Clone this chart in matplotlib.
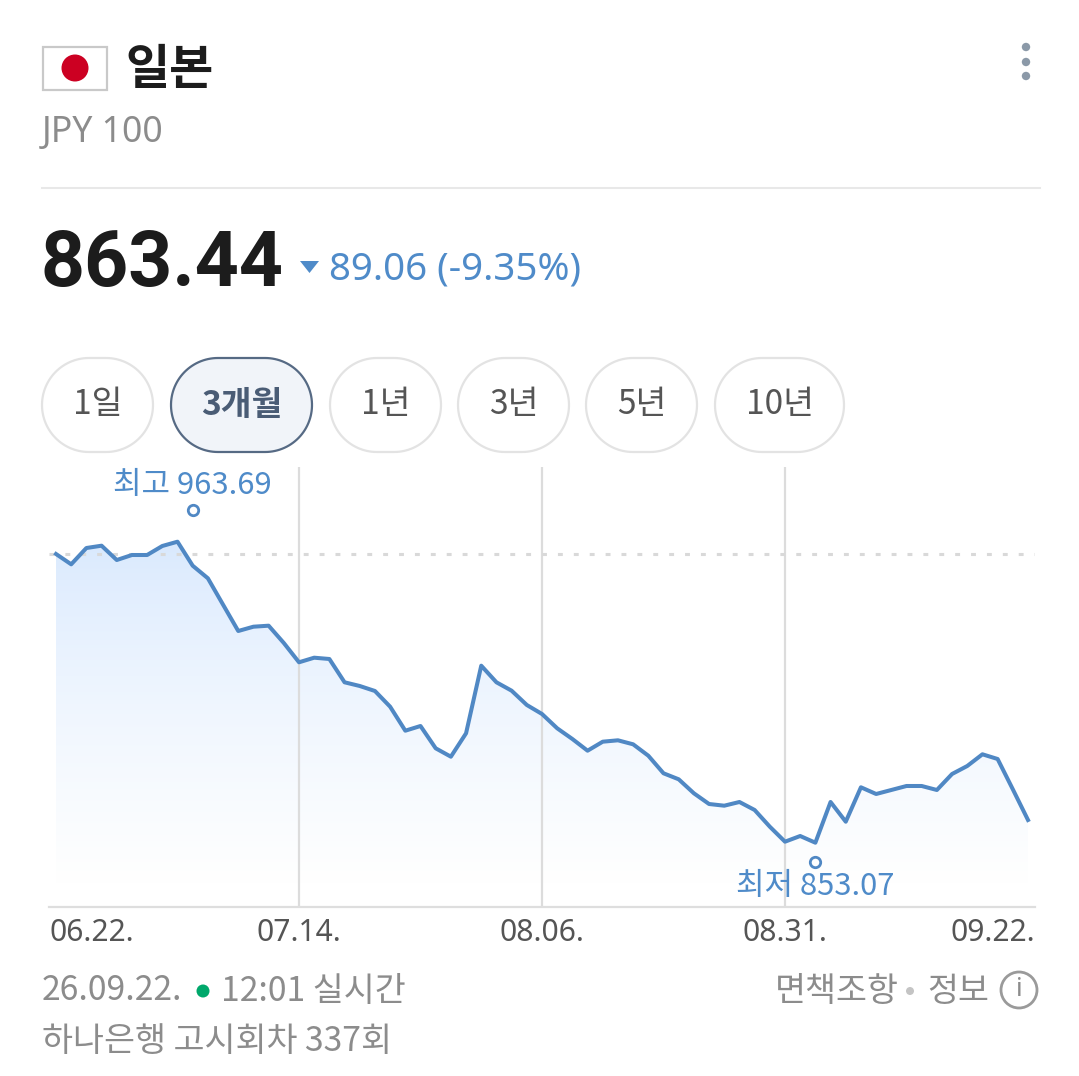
import numpy as np
import matplotlib
matplotlib.use("Agg")
import matplotlib.pyplot as plt
from matplotlib.patches import Rectangle, Circle, Polygon
from matplotlib.transforms import ScaledTranslation

plt.rcParams['font.family'] = ['Noto Sans CJK KR', 'DejaVu Sans']

# ---- data ----
rates = [959.17, 955.38, 961.37, 962.22, 956.96, 958.80, 958.80, 962.11, 963.69, 954.87,
         950.24, 940.54, 930.87, 932.45, 932.82, 926.46, 919.37, 921.06, 920.58, 912.02,
         910.66, 908.82, 903.05, 894.23, 895.96, 887.76, 884.68, 893.28, 918.12, 912.02,
         908.93, 903.68, 900.37, 895.11, 891.18, 886.88, 890.19, 890.70, 889.23, 885.04,
         878.58, 876.37, 871.23, 867.29, 866.67, 868.03, 865.09, 858.95, 853.44, 855.53,
         853.07, 868.03, 860.79, 873.43, 870.97, 872.44, 873.91, 873.91, 872.44, 878.32,
         881.26, 885.56, 883.83, 872.70, 861.41]
tick_pos = [0, 16, 32, 48, 64]
tick_labels = ["06.22.", "07.14.", "08.06.", "08.31.", "09.22."]
grid_pos = [16, 32, 48]
prev_close = 959.17
high_label = "최고 963.69"
low_label = "최저 853.07"
high_marker = (9, 975.5)
low_marker = (50, 846.0)
periods = ["1일", "3개월", "1년", "3년", "5년", "10년"]

W, H = 1079, 1076
fig = plt.figure(figsize=(W / 100, H / 100), dpi=100, facecolor="white")

BLUE = "#4f8bc9"
LINE = "#5088c4"
GRAY = "#8c8c8c"
DARK = "#1c1c1c"
px = 0.72

# ---- UI layer in pixel coordinates ----
ui = fig.add_axes([0, 0, 1, 1])
ui.set_xlim(0, W)
ui.set_ylim(H, 0)
ui.axis("off")


def pill(a, b, y0, y1, **kw):
    r = (y1 - y0) / 2
    t = np.linspace(-np.pi / 2, np.pi / 2, 60)
    xs = np.r_[b - r + r * np.cos(t), a + r - r * np.cos(t[::-1])]
    ys = np.r_[y0 + r + r * np.sin(t), y0 + r + r * np.sin(t[::-1])]
    ui.add_patch(Polygon(np.c_[xs, ys], closed=True, **kw))


ui.add_patch(Rectangle((43, 46.5), 64, 43, fc="white", ec="#c9c9c9", lw=1.6))
ui.add_patch(Circle((75, 68), 13.5, fc="#cc0022", ec="none"))
ui.text(125, 69, "일본", fontsize=48 * px, fontweight="bold", color=DARK, va="center", ha="left")
ui.text(42, 133, "JPY 100", fontsize=35.5 * px, color=GRAY, va="center", ha="left",
        family=["Noto Sans", "DejaVu Sans"])
for y in (47, 62, 76):
    ui.add_patch(Circle((1026, y), 4.2, fc="#8b99a8", ec="none"))
ui.plot([42, 1040], [188, 188], color="#e8e8e8", lw=1.5)

ui.text(41, 265, "863.44", fontsize=77 * px, fontweight="bold", color=DARK, va="center", ha="left",
        family=["Roboto", "DejaVu Sans"])
ui.add_patch(Polygon([(300, 261), (319, 261), (309.5, 273)], fc=BLUE, ec="none"))
ui.text(329, 269, "89.06 (-9.35%)", fontsize=38.5 * px, color=BLUE, va="center", ha="left",
        family=["Noto Sans", "DejaVu Sans"])

spans = [(42, 153), (171, 312), (330, 441), (458, 569), (586, 697), (715, 844)]
for i, (lab, (a, b)) in enumerate(zip(periods, spans)):
    sel = i == 1
    pill(a, b, 358, 452, fc="#f1f4f9" if sel else "white",
         ec="#566a84" if sel else "#e3e3e3", lw=1.6)
    ui.text((a + b) / 2, 405, lab, fontsize=33.5 * px, color="#4a5c75" if sel else "#555555",
            fontweight="bold" if sel else "normal", va="center", ha="center")

ui.text(42, 991, "26.09.22.", fontsize=33.7 * px, color=GRAY, va="center", ha="left")
ui.add_patch(Circle((203, 991), 6.5, fc="#00a86b", ec="none"))
ui.text(221, 991, "12:01 실시간", fontsize=33.7 * px, color=GRAY, va="center", ha="left")
ui.text(775, 991, "면책조항", fontsize=33.7 * px, color=GRAY, va="center", ha="left")
ui.add_patch(Circle((910, 991), 4, fc="#c4c4c4", ec="none"))
ui.text(927, 991, "정보", fontsize=33.7 * px, color=GRAY, va="center", ha="left")
ui.add_patch(Circle((1019, 990), 18, fc="white", ec="#9a9a9a", lw=2))
ui.text(1019, 990, "i", fontsize=26 * px, color="#8c8c8c", va="center", ha="center",
        family=["Noto Sans", "DejaVu Sans"])
ui.text(42, 1041, "하나은행 고시회차 337회", fontsize=33.7 * px, color=GRAY, va="center", ha="left")

# ---- chart ----
left, right, top, bottom = 49, 1035, 467, 907
ax = fig.add_axes([left / W, 1 - bottom / H, (right - left) / W, (bottom - top) / H])
ax.patch.set_alpha(0)

x = np.arange(len(rates))
grad = np.linspace(0, 1, 256) ** 0.7
cols = np.ones((256, 1, 4))
cols[:, 0, 0] = 0.845 + 0.155 * grad
cols[:, 0, 1] = 0.910 + 0.090 * grad
cols[:, 0, 2] = 0.995 + 0.005 * grad
im = ax.imshow(cols, extent=[x[0], x[-1], 838, 963.69], aspect="auto", origin="upper", zorder=1)
clip = Polygon(list(zip(x, rates)) + [(x[-1], 838), (x[0], 838)], closed=True,
               transform=ax.transData, fc="none", ec="none")
ax.add_patch(clip)
im.set_clip_path(clip)
ax.set_xlim(-0.461, 64.461)
ax.set_ylim(829.44, 991.14)

for g in grid_pos:
    ax.axvline(g, color="#dcdcdc", lw=1.6, zorder=2)
ax.axhline(prev_close, color="#d9d9d9", lw=2.2, ls=(0, (1.6, 3.6)), zorder=2)

ax.plot(x, rates, color=LINE, lw=2.9, solid_joinstyle="round", zorder=3)
ax.plot(*high_marker, "o", ms=7.5, mfc="white", mec=LINE, mew=2, zorder=4)
ax.plot(*low_marker, "o", ms=7.5, mfc="white", mec=LINE, mew=2, zorder=4)
ax.annotate(high_label, high_marker, xytext=(0, 17.5), textcoords="offset points", ha="center",
            va="center", color=BLUE, fontsize=31 * px, zorder=5)
ax.annotate(low_label, low_marker, xytext=(0, -18), textcoords="offset points", ha="center",
            va="center", color=BLUE, fontsize=31 * px, zorder=5)

for s in ("top", "left", "right"):
    ax.spines[s].set_visible(False)
ax.spines["bottom"].set_color("#dedede")
ax.spines["bottom"].set_linewidth(1.6)
ax.set_yticks([])
ax.set_xticks(tick_pos)
ax.set_xticklabels(tick_labels, fontsize=30 * px, color="#555555",
                   family=["Noto Sans", "DejaVu Sans"])
ax.tick_params(axis="x", length=0, pad=8)
labs = ax.get_xticklabels()
labs[0].set_ha("left")
labs[-1].set_ha("right")
labs[0].set_transform(labs[0].get_transform() + ScaledTranslation(-7 / 100, 0, fig.dpi_scale_trans))
labs[-1].set_transform(labs[-1].get_transform() + ScaledTranslation(7 / 100, 0, fig.dpi_scale_trans))

fig.savefig("out.png", dpi=100)
